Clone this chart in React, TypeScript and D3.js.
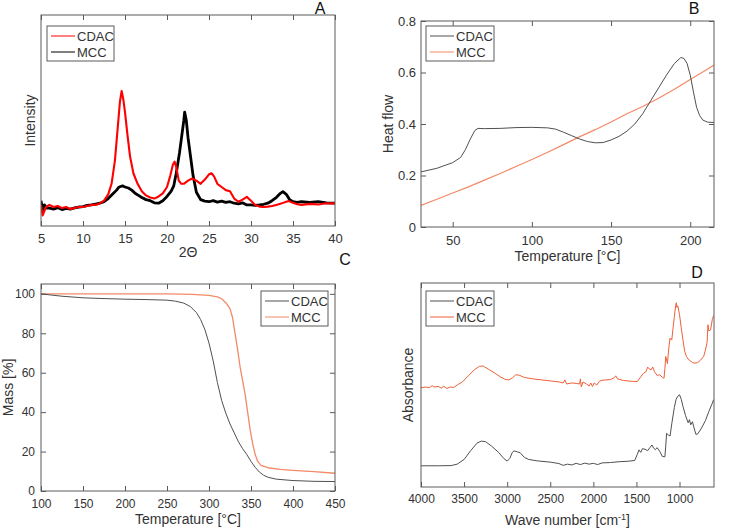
import React, { useEffect, useRef } from 'react';
import * as d3 from 'd3';

// ---- Panel A: XRD (2-theta, intensity a.u.)
const xrdCdac: [number, number][] = [
  [5.0, 0.10], [5.2, 0.05], [5.4, 0.07], [5.6, 0.09], [6, 0.10], [6.5, 0.09], [7, 0.095], [7.5, 0.085],
  [8, 0.09], [8.5, 0.08], [9, 0.085], [9.5, 0.09], [10, 0.09], [10.5, 0.095], [11, 0.10], [11.5, 0.10],
  [12, 0.107], [12.5, 0.12], [13, 0.15], [13.4, 0.2], [13.8, 0.31], [14.1, 0.45], [14.4, 0.59], [14.6, 0.64],
  [14.8, 0.6], [15, 0.54], [15.3, 0.43], [15.6, 0.33], [16, 0.25], [16.5, 0.2], [17, 0.165], [17.5, 0.145],
  [18, 0.135], [18.5, 0.13], [19, 0.14], [19.5, 0.155], [20, 0.185], [20.4, 0.24], [20.7, 0.29], [20.9, 0.305],
  [21.1, 0.28], [21.4, 0.215], [21.7, 0.2], [22, 0.2], [22.5, 0.215], [23, 0.225], [23.5, 0.215], [24, 0.2],
  [24.5, 0.22], [25, 0.245], [25.3, 0.25], [25.6, 0.235], [26, 0.2], [26.5, 0.185], [27, 0.17], [27.5, 0.165],
  [28, 0.13], [28.5, 0.115], [29, 0.125], [29.5, 0.138], [30, 0.12], [30.5, 0.1], [31, 0.092], [31.5, 0.09],
  [32, 0.092], [32.5, 0.095], [33, 0.1], [33.5, 0.105], [34, 0.112], [34.5, 0.118], [35, 0.11], [35.5, 0.103],
  [36, 0.1], [37, 0.105], [38, 0.102], [39, 0.108], [40, 0.107],
];
const xrdMcc: [number, number][] = [
  [5, 0.12], [5.2, 0.075], [5.4, 0.1], [5.7, 0.085], [6, 0.085], [6.5, 0.08], [7, 0.087], [7.5, 0.078],
  [8, 0.083], [8.5, 0.08], [9, 0.086], [9.5, 0.09], [10, 0.092], [10.5, 0.098], [11, 0.1], [11.5, 0.104],
  [12, 0.108], [12.5, 0.115], [13, 0.13], [13.5, 0.15], [14, 0.17], [14.3, 0.185], [14.7, 0.19], [15, 0.185],
  [15.4, 0.18], [15.8, 0.17], [16.2, 0.155], [16.6, 0.145], [17, 0.135], [17.5, 0.125], [18, 0.12], [18.5, 0.11],
  [19, 0.108], [19.5, 0.12], [20, 0.14], [20.5, 0.165], [20.8, 0.19], [21.1, 0.25], [21.5, 0.35], [21.8, 0.44],
  [22, 0.5], [22.1, 0.54], [22.3, 0.5], [22.5, 0.42], [22.8, 0.33], [23.1, 0.24], [23.5, 0.16], [24, 0.125],
  [24.5, 0.118], [25, 0.115], [25.5, 0.12], [26, 0.113], [26.5, 0.118], [27, 0.112], [27.5, 0.115], [28, 0.108],
  [28.5, 0.105], [29, 0.11], [29.5, 0.1], [30, 0.1], [30.5, 0.098], [31, 0.1], [31.5, 0.103], [32, 0.108],
  [32.5, 0.12], [33, 0.135], [33.5, 0.155], [33.8, 0.163], [34.2, 0.15], [34.6, 0.125], [35, 0.115], [35.5, 0.112],
  [36, 0.115], [37, 0.112], [38, 0.115], [39, 0.11], [40, 0.108],
];
const xrdTicks = [5, 10, 15, 20, 25, 30, 35, 40];

// ---- Panel B: DSC
const dscCdac: [number, number][] = [
  [30, 0.214], [40, 0.228], [50, 0.25], [55, 0.27], [58, 0.3], [61, 0.34], [64, 0.375], [66, 0.383],
  [70, 0.382], [80, 0.383], [90, 0.386], [100, 0.387], [110, 0.385], [115, 0.38], [120, 0.368], [125, 0.355],
  [130, 0.342], [135, 0.332], [140, 0.327], [145, 0.328], [150, 0.338], [155, 0.352], [160, 0.372], [165, 0.4],
  [170, 0.44], [175, 0.49], [180, 0.54], [185, 0.59], [190, 0.635], [194, 0.658], [196, 0.655], [198, 0.635],
  [200, 0.59], [202, 0.525], [204, 0.465], [206, 0.432], [208, 0.415], [211, 0.407], [215, 0.406],
];
const dscMcc: [number, number][] = [
  [30, 0.084], [40, 0.108], [50, 0.132], [60, 0.156], [70, 0.182], [80, 0.208], [90, 0.235], [100, 0.262],
  [110, 0.29], [120, 0.32], [130, 0.35], [140, 0.378], [150, 0.408], [160, 0.44], [170, 0.468], [180, 0.5],
  [190, 0.535], [200, 0.573], [210, 0.61], [215, 0.629],
];
const dscXTicks = [50, 100, 150, 200];
const dscYTicks = [0, 0.2, 0.4, 0.6, 0.8];

// ---- Panel C: TGA
const tgaCdac: [number, number][] = [
  [100, 100], [110, 99.5], [125, 98.8], [150, 98], [175, 97.6], [200, 97.3], [225, 97.1], [250, 96.8],
  [260, 96.3], [270, 95.3], [278, 93.5], [285, 90.5], [290, 87], [295, 82], [300, 75], [305, 66],
  [310, 55], [315, 46], [320, 39.5], [325, 34], [330, 29.5], [335, 25], [340, 21.5], [345, 18.5],
  [350, 15], [355, 12], [360, 9.6], [365, 8], [370, 7], [380, 6], [400, 5.3], [425, 4.9], [450, 4.8],
];
const tgaMcc: [number, number][] = [
  [100, 100], [150, 100], [200, 100], [250, 100], [280, 99.7], [300, 99.2], [310, 98.5], [315, 97.5],
  [320, 95.5], [325, 92.5], [328, 88], [331, 80], [334, 72], [337, 63], [340, 56], [343, 49],
  [346, 40], [349, 31], [352, 24], [355, 18.5], [358, 15], [362, 13], [370, 11.8], [385, 11],
  [400, 10.5], [425, 9.8], [450, 9],
];
const tgaXTicks = [100, 150, 200, 250, 300, 350, 400, 450];
const tgaYTicks = [0, 20, 40, 60, 80, 100];

// ---- Panel D: FTIR
const ftirCdac: [number, number][] = [
  [4000, 0.104], [3800, 0.104], [3650, 0.105], [3580, 0.112], [3500, 0.135], [3420, 0.18], [3350, 0.215],
  [3300, 0.225], [3250, 0.222], [3180, 0.2], [3100, 0.17], [3040, 0.14], [3000, 0.127], [2970, 0.14],
  [2940, 0.17], [2920, 0.177], [2880, 0.172], [2850, 0.168], [2800, 0.145], [2750, 0.135], [2650, 0.128],
  [2500, 0.122], [2400, 0.115], [2350, 0.106], [2300, 0.112], [2250, 0.108], [2200, 0.116], [2150, 0.11],
  [2100, 0.117], [2050, 0.112], [2000, 0.116], [1950, 0.11], [1900, 0.118], [1800, 0.12], [1700, 0.124],
  [1600, 0.126], [1520, 0.13], [1490, 0.16], [1470, 0.182], [1450, 0.17], [1430, 0.188], [1400, 0.185],
  [1370, 0.178], [1340, 0.195], [1320, 0.206], [1300, 0.19], [1280, 0.183], [1260, 0.193], [1230, 0.175],
  [1200, 0.15], [1170, 0.148], [1160, 0.2], [1150, 0.263], [1130, 0.255], [1110, 0.25], [1090, 0.31],
  [1060, 0.39], [1040, 0.43], [1020, 0.445], [1000, 0.452], [980, 0.43], [960, 0.395], [930, 0.35],
  [900, 0.315], [885, 0.33], [870, 0.305], [850, 0.32], [835, 0.295], [810, 0.258], [790, 0.26],
  [750, 0.285], [700, 0.325], [660, 0.37], [620, 0.41], [605, 0.428],
];
const ftirMcc: [number, number][] = [
  [4000, 0.487], [3950, 0.49], [3900, 0.487], [3870, 0.497], [3850, 0.49], [3800, 0.493], [3760, 0.484],
  [3740, 0.495], [3700, 0.483], [3660, 0.49], [3620, 0.488], [3580, 0.5], [3520, 0.515], [3450, 0.545],
  [3380, 0.575], [3320, 0.592], [3280, 0.593], [3220, 0.578], [3150, 0.56], [3080, 0.54], [3020, 0.527],
  [2980, 0.525], [2940, 0.535], [2900, 0.55], [2860, 0.548], [2800, 0.537], [2700, 0.53], [2600, 0.525],
  [2500, 0.52], [2400, 0.515], [2350, 0.51], [2330, 0.525], [2310, 0.505], [2250, 0.51], [2200, 0.508],
  [2160, 0.505], [2150, 0.53], [2140, 0.49], [2120, 0.515], [2080, 0.505], [2050, 0.495], [2030, 0.51],
  [2010, 0.493], [1990, 0.51], [1960, 0.5], [1930, 0.518], [1900, 0.523], [1850, 0.525], [1800, 0.527],
  [1760, 0.535], [1740, 0.545], [1720, 0.53], [1650, 0.522], [1550, 0.518], [1490, 0.517], [1450, 0.54],
  [1420, 0.557], [1390, 0.565], [1370, 0.588], [1350, 0.578], [1330, 0.574], [1310, 0.588], [1290, 0.565],
  [1260, 0.547], [1230, 0.55], [1200, 0.538], [1180, 0.533], [1170, 0.58], [1160, 0.64], [1140, 0.605],
  [1125, 0.68], [1110, 0.73], [1090, 0.72], [1075, 0.78], [1060, 0.835], [1045, 0.89], [1038, 0.903],
  [1030, 0.88], [1020, 0.888], [1000, 0.845], [980, 0.78], [960, 0.72], [940, 0.665], [920, 0.64],
  [900, 0.627], [880, 0.62], [850, 0.61], [820, 0.607], [790, 0.61], [760, 0.62], [720, 0.64], [700, 0.67],
  [680, 0.71], [670, 0.795], [660, 0.765], [640, 0.77], [620, 0.82], [605, 0.84],
];
const ftirXTicks = [4000, 3500, 3000, 2500, 2000, 1500, 1000];

const AXIS = '#5a5a5a';
const TEXT = '#333333';
const GRAY = '#505050';
const FONT = '"Liberation Sans", Arial, sans-serif';

type Series = { data: [number, number][]; color: string; width: number };

type PanelCfg = {
  id: string;
  left: number; right: number; top: number; bottom: number;
  xDomain: [number, number]; yDomain: [number, number];
  xTicks: number[]; yTicks: number[] | null;
  yFormat?: (d: number) => string;
  tickSize: number; xPad: number; yPad: number;
  series: Series[];
  legend: { x: number; y: number; w: number; h: number; items: { name: string; color: string }[] };
  xLabel: string; xLabelY: number; yLabel: string; yLabelX: number;
  letter: string; letterX: number; letterY: number;
  supLabel?: boolean;
};

function drawPanel(svg: d3.Selection<SVGSVGElement, unknown, null, undefined>, p: PanelCfg) {
  const x = d3.scaleLinear().domain(p.xDomain).range([p.left, p.right]);
  const y = d3.scaleLinear().domain(p.yDomain).range([p.bottom, p.top]);
  const g = svg.append('g').style('font-family', FONT);

  g.append('clipPath').attr('id', 'clip-' + p.id)
    .append('rect')
    .attr('x', p.left).attr('y', p.top)
    .attr('width', p.right - p.left).attr('height', p.bottom - p.top);

  const line = d3.line<[number, number]>().x(d => x(d[0])).y(d => y(d[1]));
  p.series.forEach(s => {
    g.append('path')
      .datum(s.data)
      .attr('clip-path', `url(#clip-${p.id})`)
      .attr('fill', 'none')
      .attr('stroke', s.color)
      .attr('stroke-width', s.width)
      .attr('stroke-linejoin', 'round')
      .attr('d', line);
  });

  // axes (inward ticks on all four sides)
  const bottomAxis = g.append('g')
    .attr('transform', `translate(0,${p.bottom})`)
    .call(d3.axisBottom(x).tickValues(p.xTicks).tickSize(-p.tickSize).tickPadding(p.xPad).tickFormat(d3.format('d')));
  const topAxis = g.append('g')
    .attr('transform', `translate(0,${p.top})`)
    .call(d3.axisTop(x).tickValues(p.xTicks).tickSize(-p.tickSize).tickFormat(() => ''));
  [bottomAxis, topAxis].forEach(a => {
    a.select('.domain').remove();
    a.selectAll('line').attr('stroke', AXIS);
    a.selectAll('text').attr('fill', TEXT).style('font-size', p.id === 'A' || p.id === 'B' ? '13px' : '12px').style('font-family', FONT);
  });

  if (p.yTicks) {
    const leftAxis = g.append('g')
      .attr('transform', `translate(${p.left},0)`)
      .call(d3.axisLeft(y).tickValues(p.yTicks).tickSize(-p.tickSize).tickPadding(p.yPad).tickFormat(p.yFormat || (d => String(d))));
    const rightAxis = g.append('g')
      .attr('transform', `translate(${p.right},0)`)
      .call(d3.axisRight(y).tickValues(p.yTicks).tickSize(-p.tickSize).tickFormat(() => ''));
    [leftAxis, rightAxis].forEach(a => {
      a.select('.domain').remove();
      a.selectAll('line').attr('stroke', AXIS);
      a.selectAll('text').attr('fill', TEXT).style('font-size', p.id === 'B' ? '13px' : '12px').style('font-family', FONT);
    });
  }

  g.append('rect')
    .attr('x', p.left).attr('y', p.top)
    .attr('width', p.right - p.left).attr('height', p.bottom - p.top)
    .attr('fill', 'none').attr('stroke', AXIS).attr('stroke-width', 1);

  // x label
  const xl = g.append('text')
    .attr('x', (p.left + p.right) / 2).attr('y', p.xLabelY)
    .attr('text-anchor', 'middle')
    .attr('fill', TEXT)
    .style('font-size', '14px');
  if (p.supLabel) {
    xl.append('tspan').text('Wave number [cm');
    xl.append('tspan').attr('dy', -5).style('font-size', '9px').text('-1');
    xl.append('tspan').attr('dy', 5).text(']');
  } else {
    xl.text(p.xLabel);
  }

  // y label
  g.append('text')
    .attr('transform', `translate(${p.yLabelX},${(p.top + p.bottom) / 2}) rotate(-90)`)
    .attr('text-anchor', 'middle')
    .attr('dy', '0.35em')
    .attr('fill', TEXT)
    .style('font-size', '14px')
    .text(p.yLabel);

  // legend
  const L = p.legend;
  const lg = g.append('g').attr('transform', `translate(${L.x},${L.y})`);
  lg.append('rect').attr('width', L.w).attr('height', L.h)
    .attr('fill', '#fff').attr('stroke', AXIS).attr('stroke-width', 1);
  L.items.forEach((it, i) => {
    const cy = 10 + i * 16;
    lg.append('line').attr('x1', 4).attr('x2', 28).attr('y1', cy).attr('y2', cy)
      .attr('stroke', it.color).attr('stroke-width', 1);
    lg.append('text').attr('x', 30).attr('y', cy).attr('dy', '0.36em')
      .attr('fill', TEXT).style('font-size', '13px').text(it.name);
  });

  // panel letter
  g.append('text')
    .attr('x', p.letterX).attr('y', p.letterY)
    .attr('text-anchor', 'middle')
    .attr('fill', '#111')
    .style('font-size', '16px')
    .text(p.letter);
}

const App = () => {
  const svgRef = useRef<SVGSVGElement>(null);

  useEffect(() => {
    if (!svgRef.current) return;
    const svg = d3.select(svgRef.current);
    svg.selectAll('*').remove();

    const MCC_LIGHT = '#f28a66';
    const MCC_D = '#ee6038';

    drawPanel(svg, {
      id: 'A', left: 41, right: 335, top: 15, bottom: 226,
      xDomain: [5, 40], yDomain: [0, 1],
      xTicks: xrdTicks, yTicks: null, tickSize: 5, xPad: 8, yPad: 5,
      series: [
        { data: xrdMcc, color: '#000', width: 2.8 },
        { data: xrdCdac, color: '#ff0000', width: 2.1 },
      ],
      legend: { x: 47, y: 26, w: 67, h: 35, items: [{ name: 'CDAC', color: '#ff0000' }, { name: 'MCC', color: '#000' }] },
      xLabel: '2Θ', xLabelY: 257, yLabel: 'Intensity', yLabelX: 30,
      letter: 'A', letterX: 320, letterY: 14,
    });

    drawPanel(svg, {
      id: 'B', left: 421, right: 714, top: 21, bottom: 227,
      xDomain: [30, 215], yDomain: [0, 0.8],
      xTicks: dscXTicks, yTicks: dscYTicks, yFormat: d => (d === 0 ? '0' : d3.format('.1f')(d)),
      tickSize: 5, xPad: 9, yPad: 5,
      series: [
        { data: dscMcc, color: MCC_LIGHT, width: 1.2 },
        { data: dscCdac, color: GRAY, width: 1 },
      ],
      legend: { x: 426, y: 26, w: 68, h: 35, items: [{ name: 'CDAC', color: GRAY }, { name: 'MCC', color: MCC_LIGHT }] },
      xLabel: 'Temperature [°C]', xLabelY: 261, yLabel: 'Heat flow', yLabelX: 388,
      letter: 'B', letterX: 694, letterY: 14,
    });

    drawPanel(svg, {
      id: 'C', left: 41, right: 335, top: 284, bottom: 491,
      xDomain: [100, 450], yDomain: [0, 105],
      xTicks: tgaXTicks, yTicks: tgaYTicks,
      tickSize: 5, xPad: 8, yPad: 6,
      series: [
        { data: tgaMcc, color: MCC_LIGHT, width: 1.3 },
        { data: tgaCdac, color: GRAY, width: 1 },
      ],
      legend: { x: 261, y: 291, w: 67, h: 35, items: [{ name: 'CDAC', color: GRAY }, { name: 'MCC', color: MCC_LIGHT }] },
      xLabel: 'Temperature [°C]', xLabelY: 524, yLabel: 'Mass [%]', yLabelX: 8,
      letter: 'C', letterX: 345, letterY: 265,
    });

    drawPanel(svg, {
      id: 'D', left: 421, right: 714, top: 283, bottom: 487,
      xDomain: [4000, 600], yDomain: [0, 1],
      xTicks: ftirXTicks, yTicks: null, tickSize: 5, xPad: 7, yPad: 5,
      series: [
        { data: ftirMcc, color: MCC_D, width: 1 },
        { data: ftirCdac, color: GRAY, width: 1 },
      ],
      legend: { x: 426, y: 291, w: 68, h: 35, items: [{ name: 'CDAC', color: GRAY }, { name: 'MCC', color: MCC_D }] },
      xLabel: 'Wave number [cm-1]', xLabelY: 525, yLabel: 'Absorbance', yLabelX: 408,
      letter: 'D', letterX: 697, letterY: 278, supLabel: true,
    });
  }, []);

  return (
    <div style={{ position: 'absolute', left: 0, top: 0, width: 750, height: 529, background: '#fff' }}>
      <svg ref={svgRef} width={750} height={529} style={{ display: 'block' }} />
    </div>
  );
};

export default App;
